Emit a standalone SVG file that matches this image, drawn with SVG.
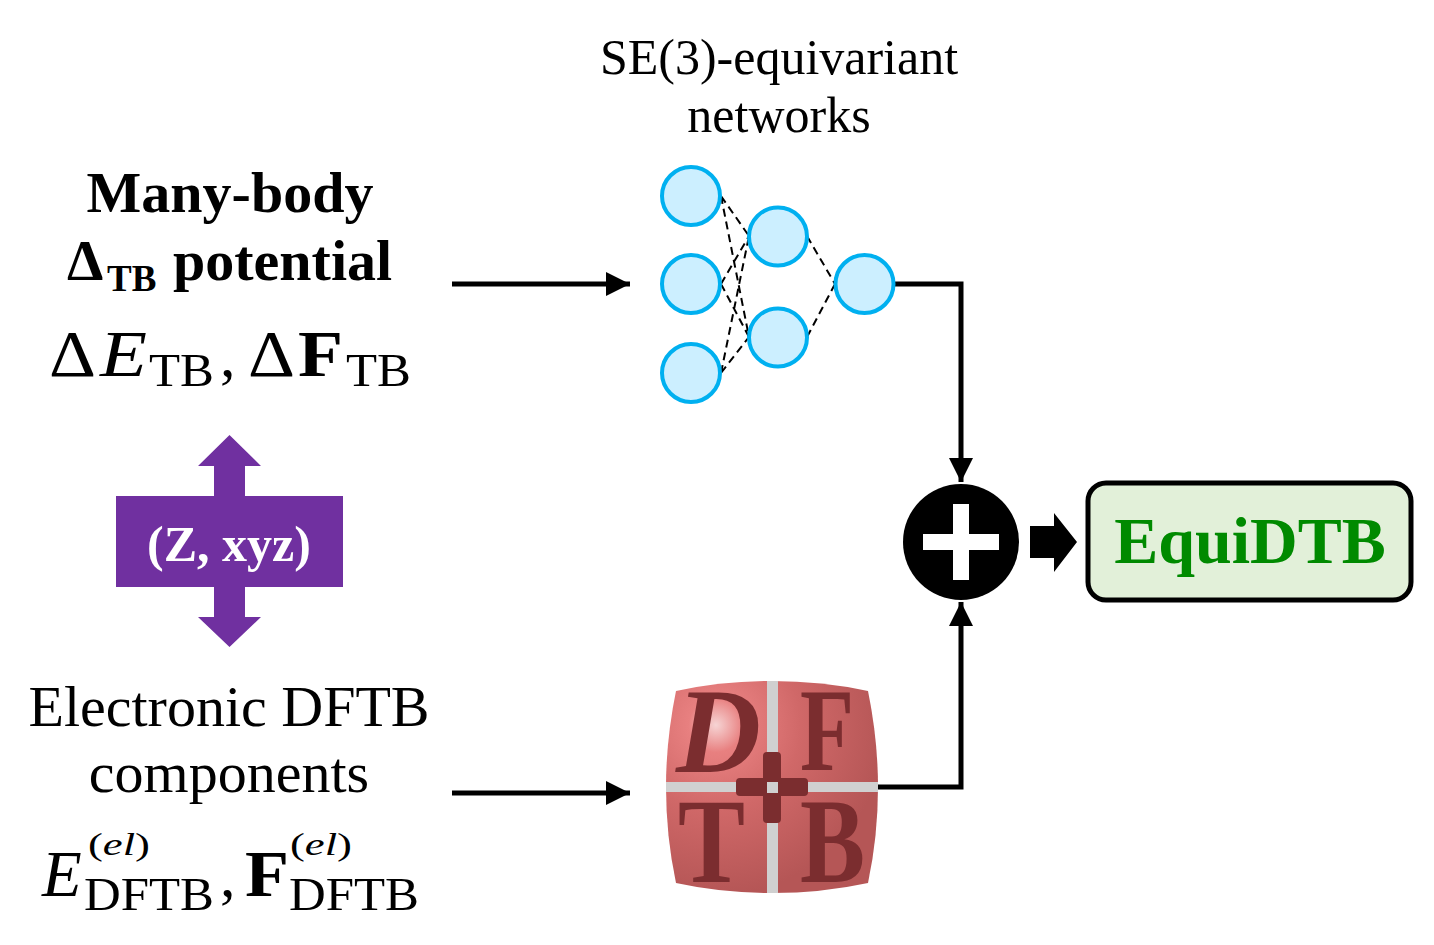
<svg xmlns="http://www.w3.org/2000/svg" width="1434" height="945" viewBox="0 0 1434 945">
<style>
.s{font-family:"Liberation Serif","Times New Roman",serif;fill:#000}
.b{font-weight:bold}
.i{font-style:italic}
.c{text-anchor:middle}
.nn{fill:#ccefff;stroke:#00b0f0;stroke-width:4}
.d{fill:none;stroke:#000;stroke-width:2;stroke-dasharray:8 5}
.w{fill:none;stroke:#000;stroke-width:5}
.l{font-family:"Liberation Serif",serif;font-weight:bold;fill:#7b2d2f}
</style>
<defs>
<marker id="a" markerUnits="userSpaceOnUse" markerWidth="26" markerHeight="26" refX="24" refY="12" orient="auto"><path d="M0,0L24,12L0,24z" fill="#000"/></marker>
<radialGradient id="g" gradientUnits="userSpaceOnUse" cx="716" cy="725" r="170"><stop offset="0" stop-color="#f6d4d4"/><stop offset=".16" stop-color="#e88080"/><stop offset=".5" stop-color="#d06868"/><stop offset="1" stop-color="#b55656"/></radialGradient>
</defs>
<g id="connectors">
<path class="w" d="M452,284H630" marker-end="url(#a)"/>
<path class="w" d="M452,793H630" marker-end="url(#a)"/>
<path class="w" d="M893,284H961V482" marker-end="url(#a)"/>
<path class="w" d="M878,787H961V602" marker-end="url(#a)"/>
<path class="d" d="M721,196L749,236M721,196L749,337M721,284L749,236M721,284L749,337M721,373L749,236M721,373L749,337M807,236L835,284M807,337L835,284"/>
</g>
<g id="title-se3"><text class="s c" x="779" y="74" font-size="50">SE(3)-equivariant</text><text class="s c" x="779" y="132" font-size="50">networks</text></g>
<g id="many-body">
<text class="s b c" x="230" y="212" font-size="58">Many-body</text>
<text class="s b" x="67" y="280" font-size="58">Δ</text><text class="s b" x="107" y="291" font-size="37">TB</text><text class="s b" x="173" y="280" font-size="58">potential</text>
<text class="s" x="49" y="376" font-size="65" textLength="47" lengthAdjust="spacingAndGlyphs">Δ</text><text class="s i" x="100" y="376" font-size="65" textLength="47" lengthAdjust="spacingAndGlyphs">E</text><text class="s" x="149" y="386" font-size="46" textLength="65" lengthAdjust="spacingAndGlyphs">TB</text><text class="s" x="220" y="376" font-size="62">,</text><text class="s" x="248" y="376" font-size="65" textLength="47" lengthAdjust="spacingAndGlyphs">Δ</text><text class="s b" x="298" y="376" font-size="65" textLength="45" lengthAdjust="spacingAndGlyphs">F</text><text class="s" x="346" y="386" font-size="46" textLength="65" lengthAdjust="spacingAndGlyphs">TB</text>
</g>
<g id="xyz">
<path d="M116,496H214V466H198L229.500,435L261,466H245V496H343V587H245V617H261L229.500,647L198,617H214V587H116z" fill="#7030a0"/>
<text class="s b c" x="229" y="561" font-size="50" style="fill:#fff">(Z, xyz)</text>
</g>
<g id="electronic">
<text class="s c" x="229" y="726" font-size="58">Electronic DFTB</text>
<text class="s c" x="229" y="792" font-size="58">components</text>
<text class="s i" x="42" y="896" font-size="65">E</text><text class="s" x="84" y="910" font-size="46" textLength="130" lengthAdjust="spacingAndGlyphs">DFTB</text><text class="s" x="88" y="855" font-size="32" textLength="62" lengthAdjust="spacingAndGlyphs">(<tspan class="i">el</tspan>)</text><text class="s" x="220" y="896" font-size="62">,</text><text class="s b" x="245" y="896" font-size="65" textLength="44" lengthAdjust="spacingAndGlyphs">F</text><text class="s" x="289" y="910" font-size="46" textLength="130" lengthAdjust="spacingAndGlyphs">DFTB</text><text class="s" x="290" y="855" font-size="32" textLength="62" lengthAdjust="spacingAndGlyphs">(<tspan class="i">el</tspan>)</text>
</g>
<g id="network">
<circle class="nn" cx="691" cy="196" r="29"/><circle class="nn" cx="691" cy="284" r="29"/><circle class="nn" cx="691" cy="373" r="29"/><circle class="nn" cx="778" cy="236.500" r="29"/><circle class="nn" cx="778" cy="337.500" r="29"/><circle class="nn" cx="864.500" cy="284" r="29"/>
</g>
<g id="dftb-logo">
<path d="M676,691Q722,681 772,681Q822,681 868,691Q878,740 878,787Q878,836 868,883Q822,893 772,893Q722,893 676,883Q666,836 666,787Q666,740 676,691z" fill="url(#g)"/>
<path d="M767,681H778V893H767zM666,782H878V792H666z" fill="#d0d0d0"/>
<text class="l" x="676" y="772" font-style="italic" font-size="120" textLength="85" lengthAdjust="spacingAndGlyphs">D</text><text class="l" x="800" y="770" font-size="118" textLength="54" lengthAdjust="spacingAndGlyphs">F</text><text class="l" x="678" y="882" font-size="121" textLength="67" lengthAdjust="spacingAndGlyphs">T</text><text class="l" x="800" y="882" font-size="121" textLength="65" lengthAdjust="spacingAndGlyphs">B</text>
<path d="M767,752H777Q781,752 781,756V778H804Q808,778 808,782V792Q808,796 804,796H781V819Q781,823 777,823H767Q763,823 763,819V796H740Q736,796 736,792V782Q736,778 740,778H763V756Q763,752 767,752z" fill="#7b2d2f"/>
<rect x="767" y="782" width="11" height="11" fill="#d0d0d0"/>
</g>
<g id="plus">
<circle cx="961" cy="542" r="58" fill="#000"/>
<path d="M953,504H969V534H999V550H969V580H953V550H923V534H953z" fill="#fff"/>
</g>
<path id="arrow-out" d="M1030,526H1054V513L1077,542L1054,572V558H1030z" fill="#000"/>
<g id="equidtb">
<rect x="1088" y="483" width="323" height="117" rx="18" fill="#e2f0d9" stroke="#000" stroke-width="5"/>
<text class="s b c" x="1250" y="563" font-size="66" style="fill:#008a00">EquiDTB</text>
</g>
</svg>
